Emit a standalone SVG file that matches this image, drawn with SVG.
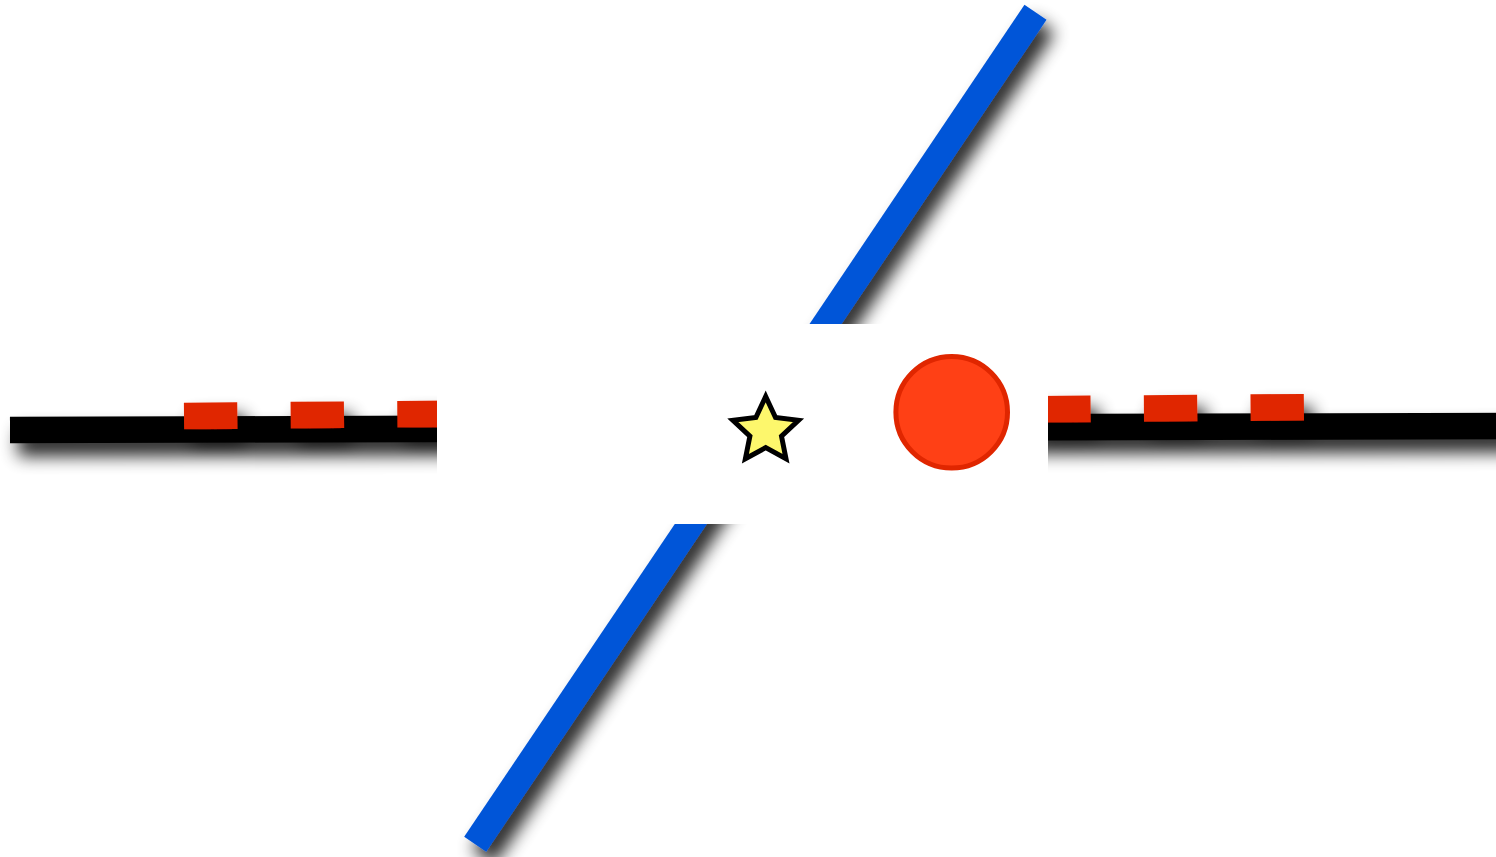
<svg xmlns="http://www.w3.org/2000/svg" width="1496" height="857" viewBox="0 0 1496 857">
  <style>
    .line { fill: none; stroke-linecap: butt; stroke-width: 26.6; }
    .black { stroke: #000000; }
    .red { stroke: #e02600; stroke-dasharray: 53.33 53.33; }
    .blue { stroke: #0055d8; }
    .cover { fill: #ffffff; stroke: none; }
  </style>
  <defs>
    <filter id="shadow" filterUnits="userSpaceOnUse" x="-50" y="-50" width="1600" height="960">
      <feGaussianBlur in="SourceAlpha" stdDeviation="8.5"/>
      <feOffset dx="8" dy="13" result="b"/>
      <feComponentTransfer>
        <feFuncA type="linear" slope="0.85"/>
      </feComponentTransfer>
      <feMerge>
        <feMergeNode/>
        <feMergeNode in="SourceGraphic"/>
      </feMerge>
    </filter>
  </defs>
  <rect width="1496" height="857" fill="#ffffff"/>
  <g id="connectors">
    <line class="line black" x1="10" y1="430" x2="1530" y2="425.9" filter="url(#shadow)"/>
    <line class="line red" x1="184" y1="416" x2="1304" y2="407.2" filter="url(#shadow)"/>
    <line class="line blue" x1="1035.5" y1="12.2" x2="475.2" y2="844.2" filter="url(#shadow)"/>
  </g>
  <g id="cover">
    <rect class="cover" x="437" y="324" width="611" height="200"/>
  </g>
  <g id="star">
    <polygon points="765.7,396.5 775.5,417.5 798.5,420.3 781.5,436.2 786,458.8 765.7,447.6 745.4,458.8 749.9,436.2 732.9,420.3 755.9,417.5" fill="#fdf76c" stroke="#000000" stroke-width="5" stroke-linejoin="miter"/>
  </g>
  <g id="circle">
    <circle cx="951.7" cy="412.3" r="55.8" fill="#ff4015" stroke="#e02600" stroke-width="5"/>
  </g>
</svg>
